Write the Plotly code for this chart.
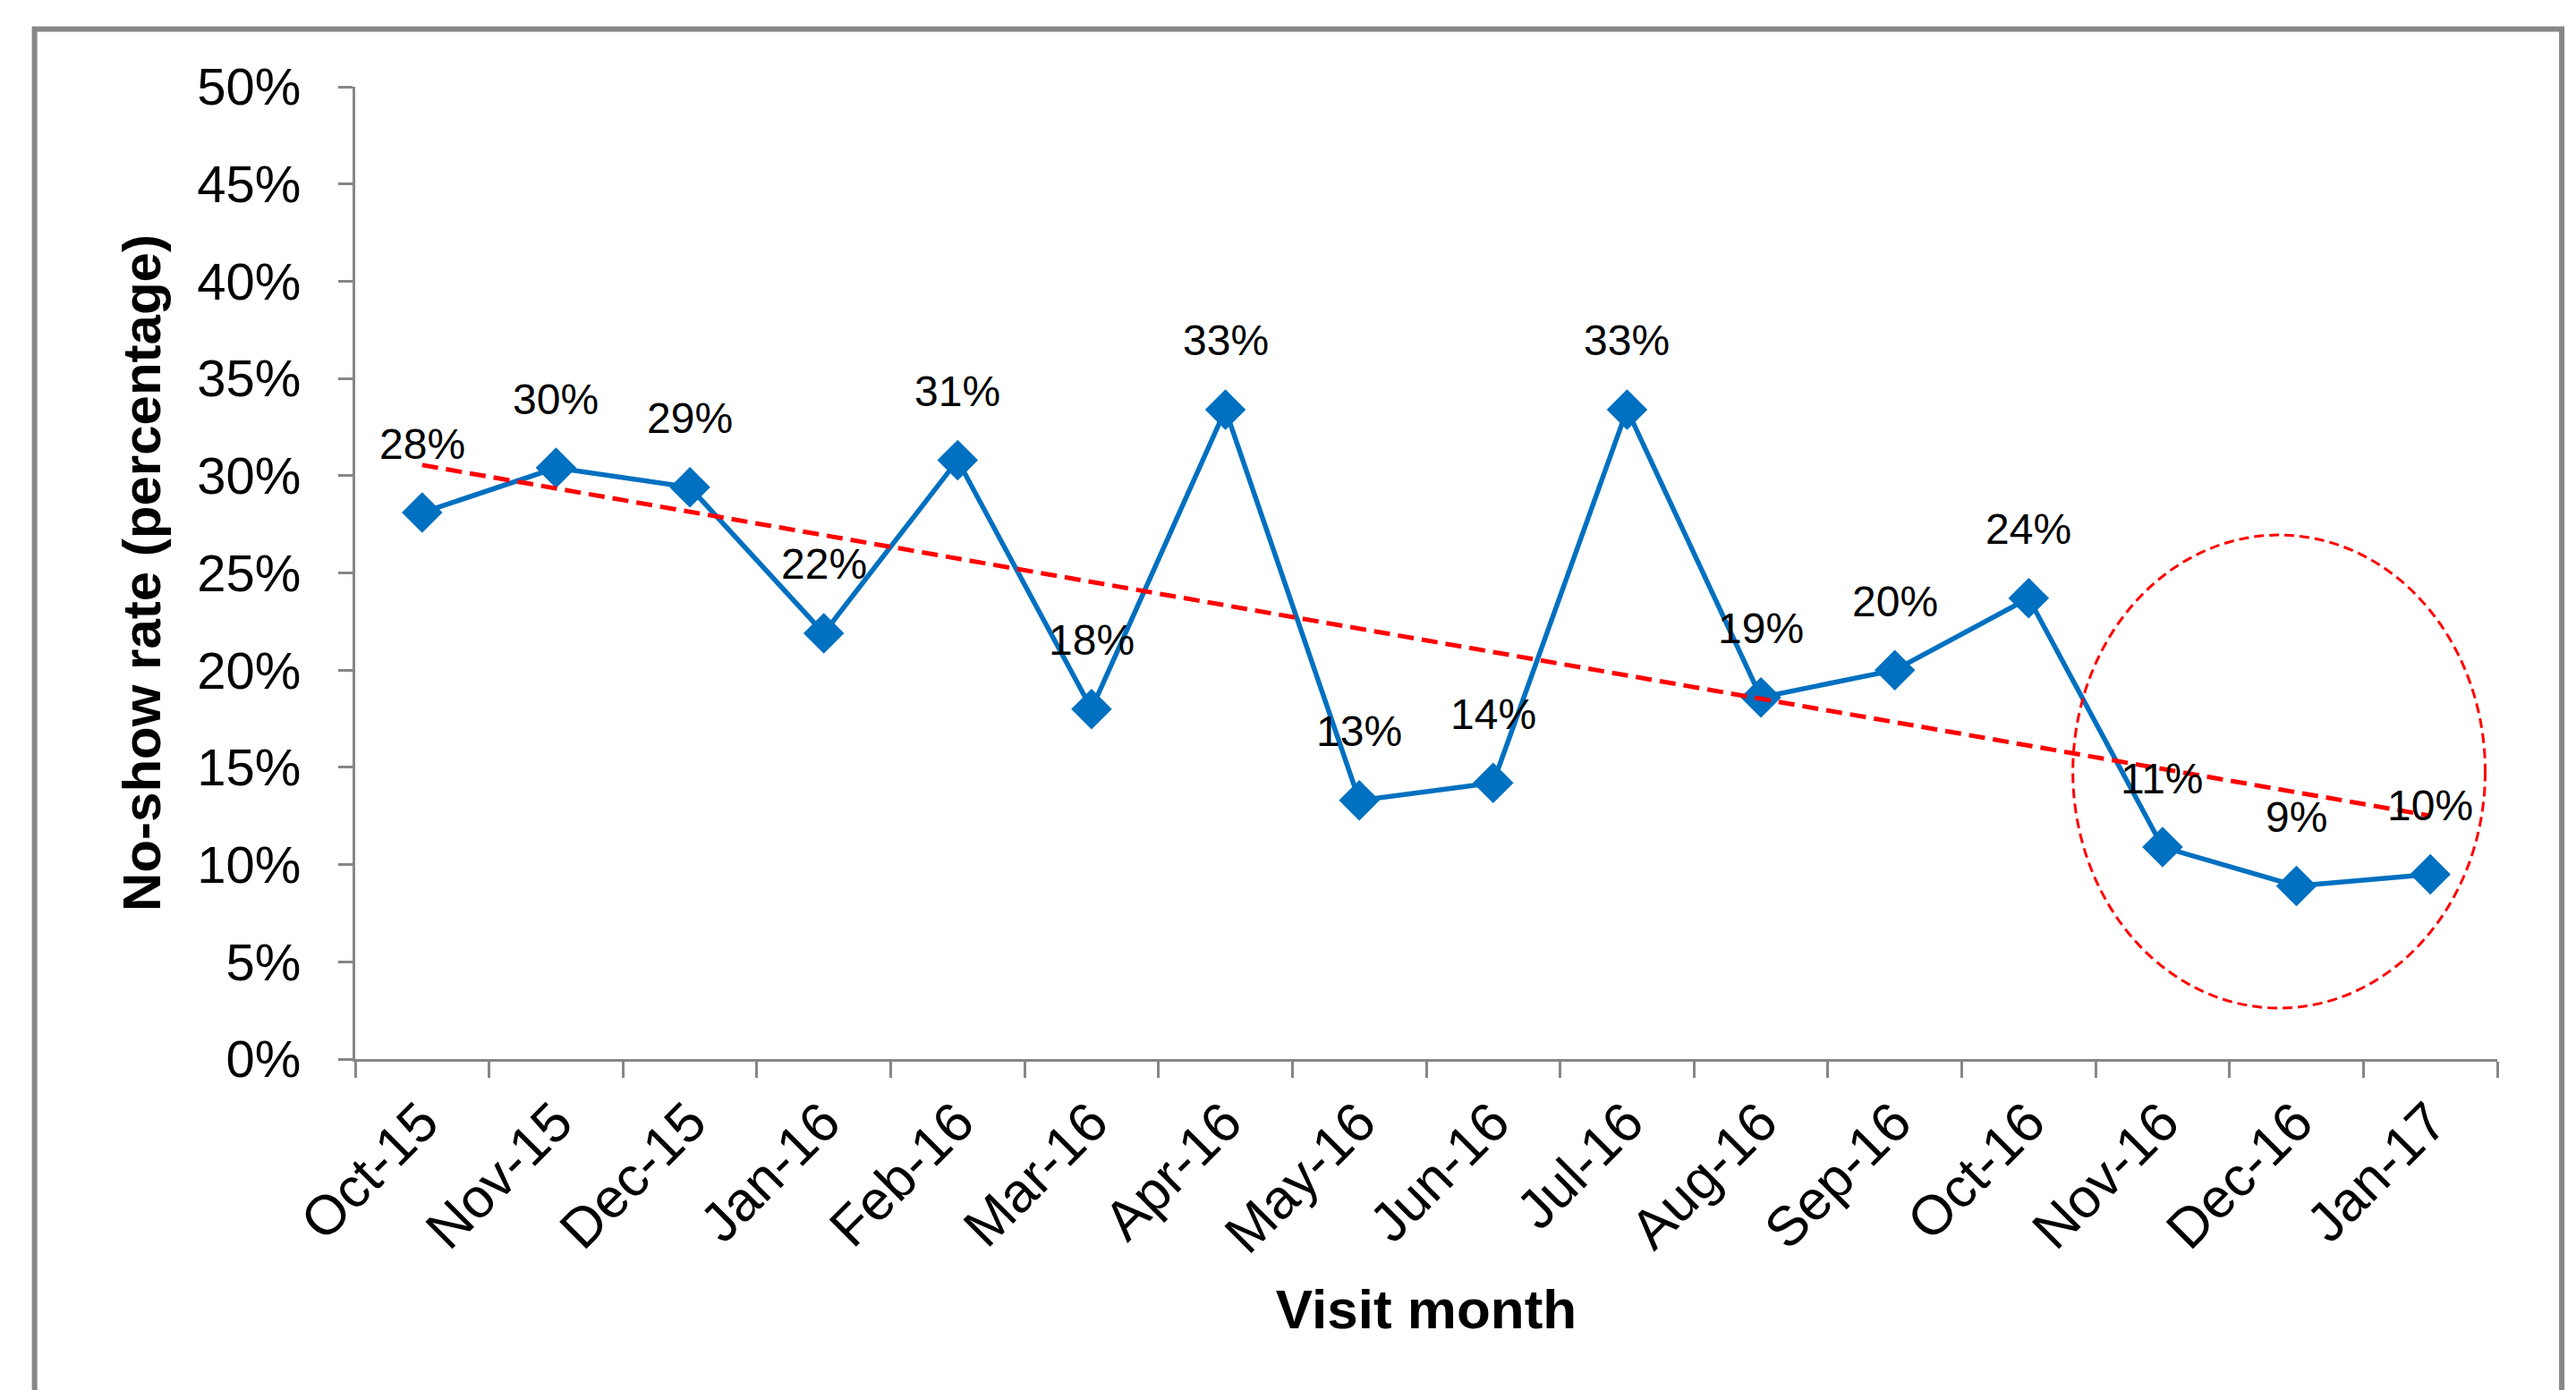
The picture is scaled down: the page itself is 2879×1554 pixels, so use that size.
import numpy as np
import plotly.graph_objects as go

months = ["Oct-15", "Nov-15", "Dec-15", "Jan-16", "Feb-16", "Mar-16", "Apr-16", "May-16",
          "Jun-16", "Jul-16", "Aug-16", "Sep-16", "Oct-16", "Nov-16", "Dec-16", "Jan-17"]
no_show_rate = [0.281, 0.304, 0.294, 0.219, 0.308, 0.180, 0.334, 0.133,
                0.142, 0.334, 0.186, 0.200, 0.237, 0.109, 0.089, 0.095]
y_tick_values = [0.0, 0.05, 0.10, 0.15, 0.20, 0.25, 0.30, 0.35, 0.40, 0.45, 0.50]
y_tick_labels = ["0%", "5%", "10%", "15%", "20%", "25%", "30%", "35%", "40%", "45%", "50%"]

FONT = "Arial, Liberation Sans, sans-serif"
BLUE = "#0070C0"
RED = "#FF0000"
GREY = "#868686"

idx = np.arange(len(months))
slope, intercept = np.polyfit(idx, no_show_rate, 1)
trend = intercept + slope * idx

fig = go.Figure()
fig.add_trace(go.Scatter(
    x=months, y=no_show_rate, mode="lines+markers",
    line=dict(color=BLUE, width=5.5),
    marker=dict(symbol="diamond", size=35, color=BLUE),
    showlegend=False,
))
fig.add_trace(go.Scatter(
    x=months, y=trend, mode="lines",
    line=dict(color=RED, width=5, dash="18px,9px"),
    showlegend=False,
))

for m, v in zip(months, no_show_rate):
    fig.add_annotation(
        x=m, y=v, text=f"{round(v * 100):.0f}%", showarrow=False,
        yshift=77, yanchor="middle", xanchor="center",
        font=dict(family=FONT, size=48, color="black"),
    )

# highlight ellipse around the last three months
fig.add_shape(type="circle", xref="x", yref="y",
              x0=12.33, x1=15.41, y0=0.0262, y1=0.2695,
              line=dict(color=RED, width=3, dash="11px,6px"))

# outer chart border (bottom edge falls outside the image)
fig.add_shape(type="rect", xref="paper", yref="paper",
              x0=-0.1497, x1=1.0301, y0=-0.40, y1=1.0593,
              line=dict(color="#878787", width=6), layer="below")

fig.update_layout(
    width=2879, height=1554, autosize=False,
    margin=dict(l=397, r=88, t=97, b=370, pad=0),
    paper_bgcolor="white", plot_bgcolor="white",
    font=dict(family=FONT, color="black"),
    xaxis=dict(
        type="category", range=[-0.5, 15.5],
        showline=True, linecolor=GREY, linewidth=3,
        ticks="outside", tickson="boundaries", ticklen=18, tickwidth=3, tickcolor=GREY,
        tickangle=-45, tickfont=dict(size=62, color="black"), ticklabelstandoff=6,
        showgrid=False, zeroline=False,
        title=dict(text="Visit month", font=dict(size=62, weight="bold"), standoff=29),
    ),
    yaxis=dict(
        range=[0, 0.5], tickvals=y_tick_values, ticktext=y_tick_labels,
        showline=True, linecolor=GREY, linewidth=3,
        ticks="outside", ticklen=16, tickwidth=3, tickcolor=GREY,
        tickfont=dict(size=58, color="black"), ticklabelstandoff=30,
        showgrid=False, zeroline=False,
        title=dict(text="No-show rate (percentage)", font=dict(size=60, weight="bold"), standoff=22),
    ),
)

fig.write_html("out.html")
